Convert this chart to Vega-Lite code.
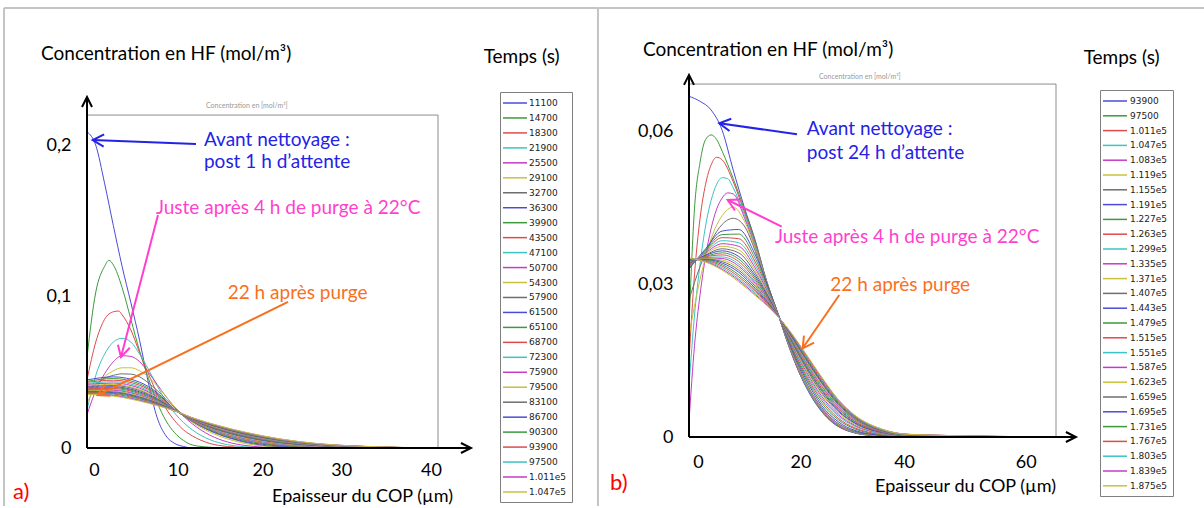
{
"$schema":"https://vega.github.io/schema/vega-lite/v6.json",
"autosize":{"type":"pad"},
"padding":{"left":2,"top":7,"right":0,"bottom":0},
"background":"white",
"bounds":"flush",
"spacing":251,
"config":{"view":{"stroke":null},"font":"Lato"},
"resolve":{"scale":{"x":"independent","y":"independent","color":"independent"},"legend":{"color":"independent"}},
"datasets":{
"a":[
{"t":"11100","x":0,"y":0.209},{"t":"11100","x":1,"y":0.2},{"t":"11100","x":2,"y":0.175},{"t":"11100","x":3,"y":0.147},{"t":"11100","x":4,"y":0.12},{"t":"11100","x":5,"y":0.096},{"t":"11100","x":6,"y":0.071},{"t":"11100","x":7,"y":0.043},{"t":"11100","x":8,"y":0.02},{"t":"11100","x":9,"y":0.008},{"t":"11100","x":10,"y":0.003},{"t":"11100","x":11,"y":0.001},{"t":"11100","x":12,"y":0},{"t":"11100","x":40,"y":0},
{"t":"14700","x":0,"y":0.06},{"t":"14700","x":1,"y":0.103},{"t":"14700","x":2,"y":0.12},{"t":"14700","x":2.5,"y":0.124},{"t":"14700","x":3,"y":0.121},{"t":"14700","x":4,"y":0.106},{"t":"14700","x":5,"y":0.085},{"t":"14700","x":6,"y":0.064},{"t":"14700","x":7,"y":0.046},{"t":"14700","x":8,"y":0.03},{"t":"14700","x":9,"y":0.018},{"t":"14700","x":10,"y":0.01},{"t":"14700","x":11,"y":0.005},{"t":"14700","x":12,"y":0.002},{"t":"14700","x":14,"y":0.0005},{"t":"14700","x":16,"y":0},{"t":"14700","x":40,"y":0},
{"t":"18300","x":0,"y":0.045},{"t":"18300","x":1,"y":0.07},{"t":"18300","x":2,"y":0.085},{"t":"18300","x":3,"y":0.09},{"t":"18300","x":3.6,"y":0.0905},{"t":"18300","x":4,"y":0.088},{"t":"18300","x":5,"y":0.078},{"t":"18300","x":6,"y":0.063},{"t":"18300","x":7,"y":0.049},{"t":"18300","x":8,"y":0.036},{"t":"18300","x":9,"y":0.026},{"t":"18300","x":10,"y":0.018},{"t":"18300","x":11,"y":0.012},{"t":"18300","x":12,"y":0.008},{"t":"18300","x":14,"y":0.003},{"t":"18300","x":16,"y":0.001},{"t":"18300","x":18,"y":0.0003},{"t":"18300","x":20,"y":0},{"t":"18300","x":40,"y":0},
{"t":"21900","x":0,"y":0.025},{"t":"21900","x":1,"y":0.048},{"t":"21900","x":2,"y":0.062},{"t":"21900","x":3,"y":0.07},{"t":"21900","x":4,"y":0.0725},{"t":"21900","x":5,"y":0.07},{"t":"21900","x":6,"y":0.062},{"t":"21900","x":7,"y":0.052},{"t":"21900","x":8,"y":0.041},{"t":"21900","x":9,"y":0.031},{"t":"21900","x":10,"y":0.023},{"t":"21900","x":12,"y":0.012},{"t":"21900","x":14,"y":0.0055},{"t":"21900","x":16,"y":0.0022},{"t":"21900","x":18,"y":0.0008},{"t":"21900","x":20,"y":0.0002},{"t":"21900","x":22,"y":0},{"t":"21900","x":40,"y":0},
{"t":"25500","x":0,"y":0.022},{"t":"25500","x":1,"y":0.038},{"t":"25500","x":2,"y":0.049},{"t":"25500","x":3,"y":0.057},{"t":"25500","x":4,"y":0.061},{"t":"25500","x":5,"y":0.0605},{"t":"25500","x":6,"y":0.057},{"t":"25500","x":7,"y":0.05},{"t":"25500","x":8,"y":0.042},{"t":"25500","x":9,"y":0.034},{"t":"25500","x":10,"y":0.027},{"t":"25500","x":12,"y":0.016},{"t":"25500","x":14,"y":0.0085},{"t":"25500","x":16,"y":0.004},{"t":"25500","x":18,"y":0.0017},{"t":"25500","x":20,"y":0.0006},{"t":"25500","x":23,"y":0.0001},{"t":"25500","x":25,"y":0},{"t":"25500","x":40,"y":0},
{"t":"29100","x":0,"y":0.03},{"t":"29100","x":1,"y":0.04},{"t":"29100","x":2,"y":0.047},{"t":"29100","x":3,"y":0.051},{"t":"29100","x":4,"y":0.053},{"t":"29100","x":5,"y":0.053},{"t":"29100","x":6,"y":0.051},{"t":"29100","x":7,"y":0.047},{"t":"29100","x":8,"y":0.041},{"t":"29100","x":9,"y":0.034},{"t":"29100","x":10,"y":0.027},{"t":"29100","x":12,"y":0.017},{"t":"29100","x":14,"y":0.0105},{"t":"29100","x":16,"y":0.006},{"t":"29100","x":18,"y":0.003},{"t":"29100","x":20,"y":0.0013},{"t":"29100","x":22,"y":0.0005},{"t":"29100","x":25,"y":0.0001},{"t":"29100","x":28,"y":0},{"t":"29100","x":40,"y":0},
{"t":"32700","x":0,"y":0.038},{"t":"32700","x":1,"y":0.042},{"t":"32700","x":2,"y":0.046},{"t":"32700","x":3,"y":0.048},{"t":"32700","x":4,"y":0.049},{"t":"32700","x":5,"y":0.0488},{"t":"32700","x":6,"y":0.047},{"t":"32700","x":7,"y":0.043},{"t":"32700","x":8,"y":0.038},{"t":"32700","x":10,"y":0.0265},{"t":"32700","x":12,"y":0.018},{"t":"32700","x":14,"y":0.0115},{"t":"32700","x":16,"y":0.007},{"t":"32700","x":18,"y":0.0038},{"t":"32700","x":20,"y":0.0018},{"t":"32700","x":23,"y":0.0006},{"t":"32700","x":26,"y":0.0001},{"t":"32700","x":30,"y":0},{"t":"32700","x":40,"y":0},
{"t":"36300","x":0,"y":0.045},{"t":"36300","x":3,"y":0.047},{"t":"36300","x":6,"y":0.0435},{"t":"36300","x":8,"y":0.0365},{"t":"36300","x":10,"y":0.0255},{"t":"36300","x":12,"y":0.0175},{"t":"36300","x":15,"y":0.0092},{"t":"36300","x":18,"y":0.0043},{"t":"36300","x":22,"y":0.0013},{"t":"36300","x":26,"y":0.0003},{"t":"36300","x":32,"y":0},{"t":"36300","x":40,"y":0},
{"t":"39900","x":0,"y":0.0441},{"t":"39900","x":3,"y":0.0459},{"t":"39900","x":6,"y":0.0424},{"t":"39900","x":8,"y":0.0357},{"t":"39900","x":10,"y":0.0254},{"t":"39900","x":12,"y":0.0177},{"t":"39900","x":15,"y":0.0097},{"t":"39900","x":18,"y":0.0049},{"t":"39900","x":22,"y":0.0017},{"t":"39900","x":26,"y":0.0006},{"t":"39900","x":32,"y":0.0001},{"t":"39900","x":40,"y":0},
{"t":"43500","x":0,"y":0.0434},{"t":"43500","x":3,"y":0.0448},{"t":"43500","x":6,"y":0.0414},{"t":"43500","x":8,"y":0.0351},{"t":"43500","x":10,"y":0.0253},{"t":"43500","x":12,"y":0.0179},{"t":"43500","x":15,"y":0.0102},{"t":"43500","x":18,"y":0.0054},{"t":"43500","x":22,"y":0.0021},{"t":"43500","x":26,"y":0.0008},{"t":"43500","x":32,"y":0.0002},{"t":"43500","x":40,"y":0},
{"t":"47100","x":0,"y":0.0426},{"t":"47100","x":3,"y":0.0438},{"t":"47100","x":6,"y":0.0404},{"t":"47100","x":8,"y":0.0344},{"t":"47100","x":10,"y":0.0253},{"t":"47100","x":12,"y":0.0181},{"t":"47100","x":15,"y":0.0106},{"t":"47100","x":18,"y":0.0059},{"t":"47100","x":22,"y":0.0025},{"t":"47100","x":26,"y":0.001},{"t":"47100","x":32,"y":0.0003},{"t":"47100","x":40,"y":0},
{"t":"50700","x":0,"y":0.042},{"t":"50700","x":3,"y":0.0429},{"t":"50700","x":6,"y":0.0395},{"t":"50700","x":8,"y":0.0338},{"t":"50700","x":10,"y":0.0252},{"t":"50700","x":12,"y":0.0183},{"t":"50700","x":15,"y":0.011},{"t":"50700","x":18,"y":0.0063},{"t":"50700","x":22,"y":0.0028},{"t":"50700","x":26,"y":0.0012},{"t":"50700","x":32,"y":0.0003},{"t":"50700","x":40,"y":0},
{"t":"54300","x":0,"y":0.0413},{"t":"54300","x":3,"y":0.042},{"t":"54300","x":6,"y":0.0386},{"t":"54300","x":8,"y":0.0332},{"t":"54300","x":10,"y":0.0251},{"t":"54300","x":12,"y":0.0185},{"t":"54300","x":15,"y":0.0114},{"t":"54300","x":18,"y":0.0067},{"t":"54300","x":22,"y":0.0031},{"t":"54300","x":26,"y":0.0014},{"t":"54300","x":32,"y":0.0004},{"t":"54300","x":40,"y":0},
{"t":"57900","x":0,"y":0.0407},{"t":"57900","x":3,"y":0.0413},{"t":"57900","x":6,"y":0.0379},{"t":"57900","x":8,"y":0.0327},{"t":"57900","x":10,"y":0.0251},{"t":"57900","x":12,"y":0.0186},{"t":"57900","x":15,"y":0.0117},{"t":"57900","x":18,"y":0.0071},{"t":"57900","x":22,"y":0.0034},{"t":"57900","x":26,"y":0.0016},{"t":"57900","x":32,"y":0.0005},{"t":"57900","x":40,"y":0},
{"t":"61500","x":0,"y":0.0402},{"t":"61500","x":3,"y":0.0405},{"t":"61500","x":6,"y":0.0371},{"t":"61500","x":8,"y":0.0322},{"t":"61500","x":10,"y":0.025},{"t":"61500","x":12,"y":0.0188},{"t":"61500","x":15,"y":0.0121},{"t":"61500","x":18,"y":0.0075},{"t":"61500","x":22,"y":0.0037},{"t":"61500","x":26,"y":0.0017},{"t":"61500","x":32,"y":0.0005},{"t":"61500","x":40,"y":0},
{"t":"65100","x":0,"y":0.0397},{"t":"65100","x":3,"y":0.0399},{"t":"65100","x":6,"y":0.0365},{"t":"65100","x":8,"y":0.0317},{"t":"65100","x":10,"y":0.0249},{"t":"65100","x":12,"y":0.0189},{"t":"65100","x":15,"y":0.0123},{"t":"65100","x":18,"y":0.0078},{"t":"65100","x":22,"y":0.0039},{"t":"65100","x":26,"y":0.0019},{"t":"65100","x":32,"y":0.0006},{"t":"65100","x":40,"y":0},
{"t":"68700","x":0,"y":0.0392},{"t":"68700","x":3,"y":0.0393},{"t":"68700","x":6,"y":0.0359},{"t":"68700","x":8,"y":0.0313},{"t":"68700","x":10,"y":0.0249},{"t":"68700","x":12,"y":0.019},{"t":"68700","x":15,"y":0.0126},{"t":"68700","x":18,"y":0.0081},{"t":"68700","x":22,"y":0.0042},{"t":"68700","x":26,"y":0.002},{"t":"68700","x":32,"y":0.0006},{"t":"68700","x":40,"y":0},
{"t":"72300","x":0,"y":0.0387},{"t":"72300","x":3,"y":0.0386},{"t":"72300","x":6,"y":0.0353},{"t":"72300","x":8,"y":0.0309},{"t":"72300","x":10,"y":0.0248},{"t":"72300","x":12,"y":0.0192},{"t":"72300","x":15,"y":0.0129},{"t":"72300","x":18,"y":0.0084},{"t":"72300","x":22,"y":0.0044},{"t":"72300","x":26,"y":0.0021},{"t":"72300","x":32,"y":0.0007},{"t":"72300","x":40,"y":0},
{"t":"75900","x":0,"y":0.0384},{"t":"75900","x":3,"y":0.0381},{"t":"75900","x":6,"y":0.0348},{"t":"75900","x":8,"y":0.0306},{"t":"75900","x":10,"y":0.0248},{"t":"75900","x":12,"y":0.0193},{"t":"75900","x":15,"y":0.0131},{"t":"75900","x":18,"y":0.0086},{"t":"75900","x":22,"y":0.0046},{"t":"75900","x":26,"y":0.0023},{"t":"75900","x":32,"y":0.0007},{"t":"75900","x":40,"y":0},
{"t":"79500","x":0,"y":0.038},{"t":"79500","x":3,"y":0.0376},{"t":"79500","x":6,"y":0.0343},{"t":"79500","x":8,"y":0.0302},{"t":"79500","x":10,"y":0.0248},{"t":"79500","x":12,"y":0.0194},{"t":"79500","x":15,"y":0.0133},{"t":"79500","x":18,"y":0.0089},{"t":"79500","x":22,"y":0.0048},{"t":"79500","x":26,"y":0.0024},{"t":"79500","x":32,"y":0.0007},{"t":"79500","x":40,"y":0},
{"t":"83100","x":0,"y":0.0376},{"t":"83100","x":3,"y":0.0371},{"t":"83100","x":6,"y":0.0338},{"t":"83100","x":8,"y":0.0299},{"t":"83100","x":10,"y":0.0247},{"t":"83100","x":12,"y":0.0195},{"t":"83100","x":15,"y":0.0136},{"t":"83100","x":18,"y":0.0091},{"t":"83100","x":22,"y":0.005},{"t":"83100","x":26,"y":0.0025},{"t":"83100","x":32,"y":0.0008},{"t":"83100","x":40,"y":0},
{"t":"86700","x":0,"y":0.0372},{"t":"86700","x":3,"y":0.0366},{"t":"86700","x":6,"y":0.0333},{"t":"86700","x":8,"y":0.0295},{"t":"86700","x":10,"y":0.0247},{"t":"86700","x":12,"y":0.0196},{"t":"86700","x":15,"y":0.0138},{"t":"86700","x":18,"y":0.0094},{"t":"86700","x":22,"y":0.0052},{"t":"86700","x":26,"y":0.0026},{"t":"86700","x":32,"y":0.0008},{"t":"86700","x":40,"y":0},
{"t":"90300","x":0,"y":0.0368},{"t":"90300","x":3,"y":0.0361},{"t":"90300","x":6,"y":0.0328},{"t":"90300","x":8,"y":0.0292},{"t":"90300","x":10,"y":0.0246},{"t":"90300","x":12,"y":0.0197},{"t":"90300","x":15,"y":0.014},{"t":"90300","x":18,"y":0.0096},{"t":"90300","x":22,"y":0.0053},{"t":"90300","x":26,"y":0.0027},{"t":"90300","x":32,"y":0.0009},{"t":"90300","x":40,"y":0},
{"t":"93900","x":0,"y":0.0365},{"t":"93900","x":3,"y":0.0356},{"t":"93900","x":6,"y":0.0323},{"t":"93900","x":8,"y":0.0289},{"t":"93900","x":10,"y":0.0246},{"t":"93900","x":12,"y":0.0198},{"t":"93900","x":15,"y":0.0142},{"t":"93900","x":18,"y":0.0099},{"t":"93900","x":22,"y":0.0055},{"t":"93900","x":26,"y":0.0028},{"t":"93900","x":32,"y":0.0009},{"t":"93900","x":40,"y":0},
{"t":"97500","x":0,"y":0.0361},{"t":"97500","x":3,"y":0.0351},{"t":"97500","x":6,"y":0.0318},{"t":"97500","x":8,"y":0.0285},{"t":"97500","x":10,"y":0.0246},{"t":"97500","x":12,"y":0.0199},{"t":"97500","x":15,"y":0.0145},{"t":"97500","x":18,"y":0.0101},{"t":"97500","x":22,"y":0.0057},{"t":"97500","x":26,"y":0.0029},{"t":"97500","x":32,"y":0.0009},{"t":"97500","x":40,"y":0},
{"t":"1.011e5","x":0,"y":0.0358},{"t":"1.011e5","x":3,"y":0.0347},{"t":"1.011e5","x":6,"y":0.0314},{"t":"1.011e5","x":8,"y":0.0283},{"t":"1.011e5","x":10,"y":0.0245},{"t":"1.011e5","x":12,"y":0.0199},{"t":"1.011e5","x":15,"y":0.0146},{"t":"1.011e5","x":18,"y":0.0103},{"t":"1.011e5","x":22,"y":0.0059},{"t":"1.011e5","x":26,"y":0.003},{"t":"1.011e5","x":32,"y":0.001},{"t":"1.011e5","x":40,"y":0},
{"t":"1.047e5","x":0,"y":0.0355},{"t":"1.047e5","x":3,"y":0.0343},{"t":"1.047e5","x":6,"y":0.031},{"t":"1.047e5","x":8,"y":0.028},{"t":"1.047e5","x":10,"y":0.0245},{"t":"1.047e5","x":12,"y":0.02},{"t":"1.047e5","x":15,"y":0.0148},{"t":"1.047e5","x":18,"y":0.0105},{"t":"1.047e5","x":22,"y":0.006},{"t":"1.047e5","x":26,"y":0.0031},{"t":"1.047e5","x":32,"y":0.001},{"t":"1.047e5","x":40,"y":0.0001}
],
"b":[
{"t":"93900","x":0,"y":0.067},{"t":"93900","x":2,"y":0.066},{"t":"93900","x":4,"y":0.0643},{"t":"93900","x":6,"y":0.0603},{"t":"93900","x":8,"y":0.0525},{"t":"93900","x":10,"y":0.0452},{"t":"93900","x":12,"y":0.0386},{"t":"93900","x":14,"y":0.0308},{"t":"93900","x":16,"y":0.0245},{"t":"93900","x":18,"y":0.018},{"t":"93900","x":20,"y":0.0125},{"t":"93900","x":22,"y":0.0082},{"t":"93900","x":24,"y":0.005},{"t":"93900","x":26,"y":0.0028},{"t":"93900","x":28,"y":0.0015},{"t":"93900","x":30,"y":0.0008},{"t":"93900","x":33,"y":0.0003},{"t":"93900","x":36,"y":0.0001},{"t":"93900","x":40,"y":0},{"t":"93900","x":66.4,"y":0},
{"t":"97500","x":0,"y":0.022},{"t":"97500","x":1,"y":0.045},{"t":"97500","x":2,"y":0.054},{"t":"97500","x":3,"y":0.0585},{"t":"97500","x":4,"y":0.0594},{"t":"97500","x":5,"y":0.0585},{"t":"97500","x":6,"y":0.0562},{"t":"97500","x":8,"y":0.0508},{"t":"97500","x":10,"y":0.0448},{"t":"97500","x":12,"y":0.0384},{"t":"97500","x":14,"y":0.0308},{"t":"97500","x":16,"y":0.0245},{"t":"97500","x":18,"y":0.0181},{"t":"97500","x":20,"y":0.0126},{"t":"97500","x":22,"y":0.0083},{"t":"97500","x":24,"y":0.0051},{"t":"97500","x":26,"y":0.0029},{"t":"97500","x":28,"y":0.0016},{"t":"97500","x":30,"y":0.0008},{"t":"97500","x":33,"y":0.0003},{"t":"97500","x":36,"y":0.0001},{"t":"97500","x":40,"y":0},{"t":"97500","x":66.4,"y":0},
{"t":"1.011e5","x":0,"y":0.015},{"t":"1.011e5","x":1,"y":0.032},{"t":"1.011e5","x":2,"y":0.043},{"t":"1.011e5","x":3,"y":0.0497},{"t":"1.011e5","x":4,"y":0.0535},{"t":"1.011e5","x":5,"y":0.055},{"t":"1.011e5","x":6,"y":0.0545},{"t":"1.011e5","x":8,"y":0.0502},{"t":"1.011e5","x":10,"y":0.0443},{"t":"1.011e5","x":12,"y":0.038},{"t":"1.011e5","x":14,"y":0.0307},{"t":"1.011e5","x":16,"y":0.0245},{"t":"1.011e5","x":18,"y":0.0182},{"t":"1.011e5","x":20,"y":0.0127},{"t":"1.011e5","x":22,"y":0.0084},{"t":"1.011e5","x":24,"y":0.0052},{"t":"1.011e5","x":26,"y":0.003},{"t":"1.011e5","x":28,"y":0.0016},{"t":"1.011e5","x":30,"y":0.0009},{"t":"1.011e5","x":33,"y":0.0003},{"t":"1.011e5","x":36,"y":0.0001},{"t":"1.011e5","x":40,"y":0},{"t":"1.011e5","x":66.4,"y":0},
{"t":"1.047e5","x":0,"y":0.01},{"t":"1.047e5","x":1,"y":0.024},{"t":"1.047e5","x":2,"y":0.034},{"t":"1.047e5","x":3,"y":0.0415},{"t":"1.047e5","x":4,"y":0.0465},{"t":"1.047e5","x":5,"y":0.0497},{"t":"1.047e5","x":6,"y":0.051},{"t":"1.047e5","x":7,"y":0.0508},{"t":"1.047e5","x":8,"y":0.049},{"t":"1.047e5","x":10,"y":0.0438},{"t":"1.047e5","x":12,"y":0.0376},{"t":"1.047e5","x":14,"y":0.0306},{"t":"1.047e5","x":16,"y":0.0245},{"t":"1.047e5","x":18,"y":0.0183},{"t":"1.047e5","x":20,"y":0.0129},{"t":"1.047e5","x":22,"y":0.0085},{"t":"1.047e5","x":24,"y":0.0053},{"t":"1.047e5","x":26,"y":0.0031},{"t":"1.047e5","x":28,"y":0.0017},{"t":"1.047e5","x":30,"y":0.0009},{"t":"1.047e5","x":33,"y":0.0004},{"t":"1.047e5","x":36,"y":0.0001},{"t":"1.047e5","x":40,"y":0},{"t":"1.047e5","x":66.4,"y":0},
{"t":"1.083e5","x":0,"y":0.003},{"t":"1.083e5","x":1,"y":0.018},{"t":"1.083e5","x":2,"y":0.028},{"t":"1.083e5","x":3,"y":0.0355},{"t":"1.083e5","x":4,"y":0.041},{"t":"1.083e5","x":5,"y":0.0448},{"t":"1.083e5","x":6,"y":0.047},{"t":"1.083e5","x":7,"y":0.048},{"t":"1.083e5","x":8,"y":0.0478},{"t":"1.083e5","x":10,"y":0.0432},{"t":"1.083e5","x":12,"y":0.0372},{"t":"1.083e5","x":14,"y":0.0305},{"t":"1.083e5","x":16,"y":0.0245},{"t":"1.083e5","x":18,"y":0.0185},{"t":"1.083e5","x":20,"y":0.0131},{"t":"1.083e5","x":22,"y":0.0087},{"t":"1.083e5","x":24,"y":0.0055},{"t":"1.083e5","x":26,"y":0.0032},{"t":"1.083e5","x":28,"y":0.0018},{"t":"1.083e5","x":30,"y":0.001},{"t":"1.083e5","x":33,"y":0.0004},{"t":"1.083e5","x":36,"y":0.0001},{"t":"1.083e5","x":40,"y":0},{"t":"1.083e5","x":66.4,"y":0},
{"t":"1.119e5","x":0,"y":0.02},{"t":"1.119e5","x":2,"y":0.031},{"t":"1.119e5","x":4,"y":0.039},{"t":"1.119e5","x":6,"y":0.0435},{"t":"1.119e5","x":8,"y":0.0452},{"t":"1.119e5","x":10,"y":0.0425},{"t":"1.119e5","x":12,"y":0.037},{"t":"1.119e5","x":14,"y":0.0305},{"t":"1.119e5","x":16,"y":0.0245},{"t":"1.119e5","x":18,"y":0.0186},{"t":"1.119e5","x":20,"y":0.0133},{"t":"1.119e5","x":22,"y":0.0089},{"t":"1.119e5","x":24,"y":0.0057},{"t":"1.119e5","x":26,"y":0.0034},{"t":"1.119e5","x":28,"y":0.0019},{"t":"1.119e5","x":30,"y":0.0011},{"t":"1.119e5","x":33,"y":0.0004},{"t":"1.119e5","x":36,"y":0.0001},{"t":"1.119e5","x":40,"y":0},{"t":"1.119e5","x":66.4,"y":0},
{"t":"1.155e5","x":0,"y":0.027},{"t":"1.155e5","x":2,"y":0.0335},{"t":"1.155e5","x":4,"y":0.0385},{"t":"1.155e5","x":6,"y":0.0418},{"t":"1.155e5","x":8,"y":0.043},{"t":"1.155e5","x":10,"y":0.0415},{"t":"1.155e5","x":12,"y":0.0365},{"t":"1.155e5","x":14,"y":0.0304},{"t":"1.155e5","x":16,"y":0.0245},{"t":"1.155e5","x":18,"y":0.0187},{"t":"1.155e5","x":20,"y":0.0135},{"t":"1.155e5","x":22,"y":0.0091},{"t":"1.155e5","x":24,"y":0.0058},{"t":"1.155e5","x":26,"y":0.0035},{"t":"1.155e5","x":28,"y":0.002},{"t":"1.155e5","x":30,"y":0.0011},{"t":"1.155e5","x":33,"y":0.0005},{"t":"1.155e5","x":36,"y":0.0002},{"t":"1.155e5","x":40,"y":0},{"t":"1.155e5","x":66.4,"y":0},
{"t":"1.191e5","x":0,"y":0.033},{"t":"1.191e5","x":3,"y":0.037},{"t":"1.191e5","x":6,"y":0.0405},{"t":"1.191e5","x":9,"y":0.0408},{"t":"1.191e5","x":12,"y":0.0358},{"t":"1.191e5","x":15,"y":0.0275},{"t":"1.191e5","x":18,"y":0.0189},{"t":"1.191e5","x":21,"y":0.0117},{"t":"1.191e5","x":24,"y":0.0062},{"t":"1.191e5","x":27,"y":0.003},{"t":"1.191e5","x":30,"y":0.0013},{"t":"1.191e5","x":35,"y":0.0003},{"t":"1.191e5","x":40,"y":0},{"t":"1.191e5","x":66.4,"y":0},
{"t":"1.227e5","x":0,"y":0.0332},{"t":"1.227e5","x":3,"y":0.0368},{"t":"1.227e5","x":6,"y":0.0398},{"t":"1.227e5","x":9,"y":0.0399},{"t":"1.227e5","x":12,"y":0.0351},{"t":"1.227e5","x":15,"y":0.0273},{"t":"1.227e5","x":18,"y":0.0191},{"t":"1.227e5","x":21,"y":0.0121},{"t":"1.227e5","x":24,"y":0.0067},{"t":"1.227e5","x":27,"y":0.0034},{"t":"1.227e5","x":30,"y":0.0016},{"t":"1.227e5","x":35,"y":0.0004},{"t":"1.227e5","x":40,"y":0},{"t":"1.227e5","x":66.4,"y":0},
{"t":"1.263e5","x":0,"y":0.0334},{"t":"1.263e5","x":3,"y":0.0366},{"t":"1.263e5","x":6,"y":0.0392},{"t":"1.263e5","x":9,"y":0.039},{"t":"1.263e5","x":12,"y":0.0344},{"t":"1.263e5","x":15,"y":0.0271},{"t":"1.263e5","x":18,"y":0.0193},{"t":"1.263e5","x":21,"y":0.0125},{"t":"1.263e5","x":24,"y":0.0072},{"t":"1.263e5","x":27,"y":0.0037},{"t":"1.263e5","x":30,"y":0.0018},{"t":"1.263e5","x":35,"y":0.0005},{"t":"1.263e5","x":40,"y":0.0001},{"t":"1.263e5","x":66.4,"y":0},
{"t":"1.299e5","x":0,"y":0.0336},{"t":"1.299e5","x":3,"y":0.0364},{"t":"1.299e5","x":6,"y":0.0386},{"t":"1.299e5","x":9,"y":0.0382},{"t":"1.299e5","x":12,"y":0.0338},{"t":"1.299e5","x":15,"y":0.0269},{"t":"1.299e5","x":18,"y":0.0195},{"t":"1.299e5","x":21,"y":0.0129},{"t":"1.299e5","x":24,"y":0.0076},{"t":"1.299e5","x":27,"y":0.0041},{"t":"1.299e5","x":30,"y":0.0021},{"t":"1.299e5","x":35,"y":0.0006},{"t":"1.299e5","x":40,"y":0.0001},{"t":"1.299e5","x":66.4,"y":0},
{"t":"1.335e5","x":0,"y":0.0337},{"t":"1.335e5","x":3,"y":0.0362},{"t":"1.335e5","x":6,"y":0.038},{"t":"1.335e5","x":9,"y":0.0375},{"t":"1.335e5","x":12,"y":0.0332},{"t":"1.335e5","x":15,"y":0.0267},{"t":"1.335e5","x":18,"y":0.0196},{"t":"1.335e5","x":21,"y":0.0133},{"t":"1.335e5","x":24,"y":0.008},{"t":"1.335e5","x":27,"y":0.0044},{"t":"1.335e5","x":30,"y":0.0023},{"t":"1.335e5","x":35,"y":0.0007},{"t":"1.335e5","x":40,"y":0.0002},{"t":"1.335e5","x":66.4,"y":0},
{"t":"1.371e5","x":0,"y":0.0339},{"t":"1.371e5","x":3,"y":0.036},{"t":"1.371e5","x":6,"y":0.0375},{"t":"1.371e5","x":9,"y":0.0368},{"t":"1.371e5","x":12,"y":0.0327},{"t":"1.371e5","x":15,"y":0.0265},{"t":"1.371e5","x":18,"y":0.0198},{"t":"1.371e5","x":21,"y":0.0136},{"t":"1.371e5","x":24,"y":0.0084},{"t":"1.371e5","x":27,"y":0.0047},{"t":"1.371e5","x":30,"y":0.0025},{"t":"1.371e5","x":35,"y":0.0008},{"t":"1.371e5","x":40,"y":0.0002},{"t":"1.371e5","x":66.4,"y":0},
{"t":"1.407e5","x":0,"y":0.034},{"t":"1.407e5","x":3,"y":0.0358},{"t":"1.407e5","x":6,"y":0.037},{"t":"1.407e5","x":9,"y":0.0362},{"t":"1.407e5","x":12,"y":0.0322},{"t":"1.407e5","x":15,"y":0.0263},{"t":"1.407e5","x":18,"y":0.0199},{"t":"1.407e5","x":21,"y":0.0139},{"t":"1.407e5","x":24,"y":0.0087},{"t":"1.407e5","x":27,"y":0.005},{"t":"1.407e5","x":30,"y":0.0027},{"t":"1.407e5","x":35,"y":0.0008},{"t":"1.407e5","x":40,"y":0.0002},{"t":"1.407e5","x":66.4,"y":0},
{"t":"1.443e5","x":0,"y":0.0341},{"t":"1.443e5","x":3,"y":0.0357},{"t":"1.443e5","x":6,"y":0.0366},{"t":"1.443e5","x":9,"y":0.0355},{"t":"1.443e5","x":12,"y":0.0317},{"t":"1.443e5","x":15,"y":0.0262},{"t":"1.443e5","x":18,"y":0.0201},{"t":"1.443e5","x":21,"y":0.0142},{"t":"1.443e5","x":24,"y":0.0091},{"t":"1.443e5","x":27,"y":0.0052},{"t":"1.443e5","x":30,"y":0.0028},{"t":"1.443e5","x":35,"y":0.0009},{"t":"1.443e5","x":40,"y":0.0003},{"t":"1.443e5","x":66.4,"y":0},
{"t":"1.479e5","x":0,"y":0.0342},{"t":"1.479e5","x":3,"y":0.0355},{"t":"1.479e5","x":6,"y":0.0362},{"t":"1.479e5","x":9,"y":0.035},{"t":"1.479e5","x":12,"y":0.0313},{"t":"1.479e5","x":15,"y":0.026},{"t":"1.479e5","x":18,"y":0.0202},{"t":"1.479e5","x":21,"y":0.0144},{"t":"1.479e5","x":24,"y":0.0093},{"t":"1.479e5","x":27,"y":0.0055},{"t":"1.479e5","x":30,"y":0.003},{"t":"1.479e5","x":35,"y":0.001},{"t":"1.479e5","x":40,"y":0.0003},{"t":"1.479e5","x":66.4,"y":0},
{"t":"1.515e5","x":0,"y":0.0343},{"t":"1.515e5","x":3,"y":0.0354},{"t":"1.515e5","x":6,"y":0.0358},{"t":"1.515e5","x":9,"y":0.0345},{"t":"1.515e5","x":12,"y":0.0309},{"t":"1.515e5","x":15,"y":0.0259},{"t":"1.515e5","x":18,"y":0.0203},{"t":"1.515e5","x":21,"y":0.0147},{"t":"1.515e5","x":24,"y":0.0096},{"t":"1.515e5","x":27,"y":0.0057},{"t":"1.515e5","x":30,"y":0.0031},{"t":"1.515e5","x":35,"y":0.001},{"t":"1.515e5","x":40,"y":0.0003},{"t":"1.515e5","x":66.4,"y":0},
{"t":"1.551e5","x":0,"y":0.0345},{"t":"1.551e5","x":3,"y":0.0353},{"t":"1.551e5","x":6,"y":0.0354},{"t":"1.551e5","x":9,"y":0.034},{"t":"1.551e5","x":12,"y":0.0305},{"t":"1.551e5","x":15,"y":0.0258},{"t":"1.551e5","x":18,"y":0.0204},{"t":"1.551e5","x":21,"y":0.0149},{"t":"1.551e5","x":24,"y":0.0099},{"t":"1.551e5","x":27,"y":0.0059},{"t":"1.551e5","x":30,"y":0.0033},{"t":"1.551e5","x":35,"y":0.0011},{"t":"1.551e5","x":40,"y":0.0003},{"t":"1.551e5","x":66.4,"y":0},
{"t":"1.587e5","x":0,"y":0.0345},{"t":"1.587e5","x":3,"y":0.0352},{"t":"1.587e5","x":6,"y":0.0351},{"t":"1.587e5","x":9,"y":0.0336},{"t":"1.587e5","x":12,"y":0.0302},{"t":"1.587e5","x":15,"y":0.0257},{"t":"1.587e5","x":18,"y":0.0205},{"t":"1.587e5","x":21,"y":0.0151},{"t":"1.587e5","x":24,"y":0.0101},{"t":"1.587e5","x":27,"y":0.0061},{"t":"1.587e5","x":30,"y":0.0034},{"t":"1.587e5","x":35,"y":0.0011},{"t":"1.587e5","x":40,"y":0.0004},{"t":"1.587e5","x":66.4,"y":0},
{"t":"1.623e5","x":0,"y":0.0346},{"t":"1.623e5","x":3,"y":0.0351},{"t":"1.623e5","x":6,"y":0.0348},{"t":"1.623e5","x":9,"y":0.0332},{"t":"1.623e5","x":12,"y":0.0299},{"t":"1.623e5","x":15,"y":0.0256},{"t":"1.623e5","x":18,"y":0.0206},{"t":"1.623e5","x":21,"y":0.0153},{"t":"1.623e5","x":24,"y":0.0103},{"t":"1.623e5","x":27,"y":0.0063},{"t":"1.623e5","x":30,"y":0.0035},{"t":"1.623e5","x":35,"y":0.0012},{"t":"1.623e5","x":40,"y":0.0004},{"t":"1.623e5","x":66.4,"y":0},
{"t":"1.659e5","x":0,"y":0.0347},{"t":"1.659e5","x":3,"y":0.035},{"t":"1.659e5","x":6,"y":0.0345},{"t":"1.659e5","x":9,"y":0.0328},{"t":"1.659e5","x":12,"y":0.0296},{"t":"1.659e5","x":15,"y":0.0255},{"t":"1.659e5","x":18,"y":0.0207},{"t":"1.659e5","x":21,"y":0.0155},{"t":"1.659e5","x":24,"y":0.0106},{"t":"1.659e5","x":27,"y":0.0064},{"t":"1.659e5","x":30,"y":0.0036},{"t":"1.659e5","x":35,"y":0.0012},{"t":"1.659e5","x":40,"y":0.0004},{"t":"1.659e5","x":66.4,"y":0},
{"t":"1.695e5","x":0,"y":0.0348},{"t":"1.695e5","x":3,"y":0.0349},{"t":"1.695e5","x":6,"y":0.0342},{"t":"1.695e5","x":9,"y":0.0324},{"t":"1.695e5","x":12,"y":0.0292},{"t":"1.695e5","x":15,"y":0.0254},{"t":"1.695e5","x":18,"y":0.0208},{"t":"1.695e5","x":21,"y":0.0157},{"t":"1.695e5","x":24,"y":0.0108},{"t":"1.695e5","x":27,"y":0.0066},{"t":"1.695e5","x":30,"y":0.0038},{"t":"1.695e5","x":35,"y":0.0013},{"t":"1.695e5","x":40,"y":0.0004},{"t":"1.695e5","x":66.4,"y":0},
{"t":"1.731e5","x":0,"y":0.0349},{"t":"1.731e5","x":3,"y":0.0348},{"t":"1.731e5","x":6,"y":0.0339},{"t":"1.731e5","x":9,"y":0.0319},{"t":"1.731e5","x":12,"y":0.0289},{"t":"1.731e5","x":15,"y":0.0253},{"t":"1.731e5","x":18,"y":0.0209},{"t":"1.731e5","x":21,"y":0.0159},{"t":"1.731e5","x":24,"y":0.011},{"t":"1.731e5","x":27,"y":0.0068},{"t":"1.731e5","x":30,"y":0.0039},{"t":"1.731e5","x":35,"y":0.0013},{"t":"1.731e5","x":40,"y":0.0004},{"t":"1.731e5","x":66.4,"y":0},
{"t":"1.767e5","x":0,"y":0.035},{"t":"1.767e5","x":3,"y":0.0347},{"t":"1.767e5","x":6,"y":0.0336},{"t":"1.767e5","x":9,"y":0.0315},{"t":"1.767e5","x":12,"y":0.0286},{"t":"1.767e5","x":15,"y":0.0252},{"t":"1.767e5","x":18,"y":0.021},{"t":"1.767e5","x":21,"y":0.0161},{"t":"1.767e5","x":24,"y":0.0112},{"t":"1.767e5","x":27,"y":0.007},{"t":"1.767e5","x":30,"y":0.004},{"t":"1.767e5","x":35,"y":0.0014},{"t":"1.767e5","x":40,"y":0.0005},{"t":"1.767e5","x":66.4,"y":0},
{"t":"1.803e5","x":0,"y":0.0351},{"t":"1.803e5","x":3,"y":0.0346},{"t":"1.803e5","x":6,"y":0.0333},{"t":"1.803e5","x":9,"y":0.0311},{"t":"1.803e5","x":12,"y":0.0283},{"t":"1.803e5","x":15,"y":0.0251},{"t":"1.803e5","x":18,"y":0.0211},{"t":"1.803e5","x":21,"y":0.0163},{"t":"1.803e5","x":24,"y":0.0115},{"t":"1.803e5","x":27,"y":0.0071},{"t":"1.803e5","x":30,"y":0.0041},{"t":"1.803e5","x":35,"y":0.0014},{"t":"1.803e5","x":40,"y":0.0005},{"t":"1.803e5","x":66.4,"y":0},
{"t":"1.839e5","x":0,"y":0.0351},{"t":"1.839e5","x":3,"y":0.0345},{"t":"1.839e5","x":6,"y":0.033},{"t":"1.839e5","x":9,"y":0.0308},{"t":"1.839e5","x":12,"y":0.028},{"t":"1.839e5","x":15,"y":0.025},{"t":"1.839e5","x":18,"y":0.0211},{"t":"1.839e5","x":21,"y":0.0165},{"t":"1.839e5","x":24,"y":0.0116},{"t":"1.839e5","x":27,"y":0.0073},{"t":"1.839e5","x":30,"y":0.0042},{"t":"1.839e5","x":35,"y":0.0015},{"t":"1.839e5","x":40,"y":0.0005},{"t":"1.839e5","x":66.4,"y":0},
{"t":"1.875e5","x":0,"y":0.0352},{"t":"1.875e5","x":3,"y":0.0344},{"t":"1.875e5","x":6,"y":0.0328},{"t":"1.875e5","x":9,"y":0.0305},{"t":"1.875e5","x":12,"y":0.0278},{"t":"1.875e5","x":15,"y":0.0249},{"t":"1.875e5","x":18,"y":0.0212},{"t":"1.875e5","x":21,"y":0.0166},{"t":"1.875e5","x":24,"y":0.0118},{"t":"1.875e5","x":27,"y":0.0074},{"t":"1.875e5","x":30,"y":0.0043},{"t":"1.875e5","x":35,"y":0.0015},{"t":"1.875e5","x":40,"y":0.0005},{"t":"1.875e5","x":66.4,"y":0}
]},
"hconcat":[
{"width":351,"height":367,"data":{"values":[{}]},
"layer":[
{"data":{"name":"a"},"mark":{"type":"line","interpolate":"monotone","strokeWidth":1},
"encoding":{
"x":{"field":"x","type":"quantitative","scale":{"domain":[0,40],"nice":false,"zero":false},"axis":{"values":[0,10,20,30,40],"title":"Epaisseur du COP (µm)","titleX":275,"titleY":48,"titleAlign":"center","titleBaseline":"middle","titleFont":"Lato","titleFontSize":18,"titleFontWeight":"normal","titleColor":"#000","labelFont":"Lato","labelFontSize":18,"labelColor":"#000","labelBaseline":"middle","labelPadding":22,"labelOffset":{"condition":[{"test":"datum.value == 0","value":7},{"test":"datum.value == 10","value":3},{"test":"datum.value == 30","value":-9},{"test":"datum.value == 40","value":-7}],"value":0},"ticks":false,"tickSize":0,"domain":false,"grid":false,"labelFlush":false,"labelOverlap":false}},
"y":{"field":"y","type":"quantitative","scale":{"domain":[0,0.2425],"nice":false,"zero":false},"axis":{"values":[0,0.1,0.2],"labelExpr":"datum.value == 0 ? '0' : replace(format(datum.value, '.1f'), '.', ',')","title":null,"labelFont":"Lato","labelFontSize":18,"labelColor":"#000","labelPadding":16,"ticks":false,"tickSize":0,"domain":false,"grid":false,"labelOverlap":false}},
"color":{"field":"t","type":"nominal","scale":{"domain":["11100","14700","18300","21900","25500","29100","32700","36300","39900","43500","47100","50700","54300","57900","61500","65100","68700","72300","75900","79500","83100","86700","90300","93900","97500","1.011e5","1.047e5"],"range":["#4b4bd8","#3c9a3c","#dd4b4b","#3cc3c3","#c43cc4","#c9c13c","#6e6e6e","#4b4bd8","#3c9a3c","#dd4b4b","#3cc3c3","#c43cc4","#c9c13c","#6e6e6e","#4b4bd8","#3c9a3c","#dd4b4b","#3cc3c3","#c43cc4","#c9c13c","#6e6e6e","#4b4bd8","#3c9a3c","#dd4b4b","#3cc3c3","#c43cc4","#c9c13c"]},
"legend":{"orient":"none","legendX":413,"legendY":11,"title":null,"strokeColor":"#808080","fillColor":"white","padding":5,"symbolType":"M-2.4,0L2.4,0","symbolSize":100,"symbolOffset":4,"symbolStrokeWidth":1.5,"labelFont":"DejaVu Sans","labelFontSize":9,"labelColor":"#222","labelOffset":8,"rowPadding":3.96,"symbolLimit":60,"labelLimit":100}}}},
{"mark":{"type":"rule","color":"#8c8c8c","strokeWidth":1},"encoding":{"x":{"datum":0},"x2":{"datum":40},"y":{"datum":0.22}}},
{"mark":{"type":"rule","color":"#8c8c8c","strokeWidth":1},"encoding":{"x":{"datum":40},"y":{"datum":0},"y2":{"datum":0.22}}},
{"mark":{"type":"rule","color":"#000","strokeWidth":2},"encoding":{"x":{"datum":0},"x2":{"datum":43.76},"y":{"datum":0}}},
{"mark":{"type":"rule","color":"#000","strokeWidth":2},"encoding":{"x":{"datum":0},"y":{"datum":0},"y2":{"datum":0.2319}}},
{"mark":{"type":"point","shape":"M-1,-0.5L0,0L-1,0.5","size":400,"angle":0,"filled":false,"color":"#000","strokeWidth":2,"opacity":1},"encoding":{"x":{"datum":43.76},"y":{"datum":0}}},
{"mark":{"type":"point","shape":"M-1,-0.5L0,0L-1,0.5","size":400,"angle":270,"filled":false,"color":"#000","strokeWidth":2,"opacity":1},"encoding":{"x":{"datum":0},"y":{"datum":0.2319}}},
{"mark":{"type":"rule","color":"#c4c4c4","strokeWidth":2},"encoding":{"x":{"datum":-9.459},"y":{"datum":-0.0383},"y2":{"datum":0.2907}}},
{"mark":{"type":"rule","color":"#c4c4c4","strokeWidth":2},"encoding":{"x":{"datum":-9.459},"x2":{"datum":58.23},"y":{"datum":0.2907}}},
{"mark":{"type":"rule","color":"#c4c4c4","strokeWidth":2},"encoding":{"x":{"datum":58.23},"y":{"datum":-0.0383},"y2":{"datum":0.2907}}},
{"mark":{"type":"text","text":"Concentration en HF (mol/m³)","align":"left","baseline":"middle","font":"Lato","fontSize":19,"color":"#000"},"encoding":{"x":{"datum":-5.242},"y":{"datum":0.2603}}},
{"mark":{"type":"text","text":"Temps (s)","align":"left","baseline":"middle","font":"Lato","fontSize":19,"color":"#000"},"encoding":{"x":{"datum":45.2},"y":{"datum":0.2583}}},
{"mark":{"type":"text","text":"a)","align":"left","baseline":"middle","font":"Lato","fontSize":22,"color":"#ff0000"},"encoding":{"x":{"datum":-8.433},"y":{"datum":-0.0291}}},
{"mark":{"type":"text","text":"Concentration en  [mol/m³]","align":"left","baseline":"middle","font":"Lato","fontSize":7,"color":"#999"},"encoding":{"x":{"datum":13.56},"y":{"datum":0.2259}}},
{"mark":{"type":"text","text":"Avant nettoyage :","align":"left","baseline":"middle","font":"Lato","fontSize":19,"color":"#2323e6"},"encoding":{"x":{"datum":13.33},"y":{"datum":0.2035}}},
{"mark":{"type":"text","text":"post 1 h d’attente","align":"left","baseline":"middle","font":"Lato","fontSize":19,"color":"#2323e6"},"encoding":{"x":{"datum":13.33},"y":{"datum":0.189}}},
{"mark":{"type":"rule","color":"#2323e6","strokeWidth":2},"encoding":{"x":{"datum":12.42},"y":{"datum":0.2008},"x2":{"datum":0.65},"y2":{"datum":0.2035}}},
{"mark":{"type":"point","shape":"M-1,-0.55L0,0L-1,0.55","size":500,"angle":182.2,"filled":false,"color":"#2323e6","strokeWidth":2,"opacity":1},"encoding":{"x":{"datum":0.65},"y":{"datum":0.2035}}},
{"mark":{"type":"text","text":"Juste après 4 h de purge à 22°C","align":"left","baseline":"middle","font":"Lato","fontSize":19,"color":"#ff3fcf"},"encoding":{"x":{"datum":7.86},"y":{"datum":0.1584}}},
{"mark":{"type":"rule","color":"#ff3fcf","strokeWidth":2},"encoding":{"x":{"datum":8.09},"y":{"datum":0.1539},"x2":{"datum":3.875},"y2":{"datum":0.0601}}},
{"mark":{"type":"point","shape":"M-1,-0.55L0,0L-1,0.55","size":500,"angle":104.7,"filled":false,"color":"#ff3fcf","strokeWidth":2,"opacity":1},"encoding":{"x":{"datum":3.875},"y":{"datum":0.0601}}},
{"mark":{"type":"text","text":"22 h après purge","align":"left","baseline":"middle","font":"Lato","fontSize":19,"color":"#f8701e"},"encoding":{"x":{"datum":16.03},"y":{"datum":0.1022}}},
{"mark":{"type":"rule","color":"#f8701e","strokeWidth":2},"encoding":{"x":{"datum":22.91},"y":{"datum":0.0965},"x2":{"datum":1.22},"y2":{"datum":0.035}}},
{"mark":{"type":"point","shape":"M-1,-0.55L0,0L-1,0.55","size":500,"angle":153.9,"filled":false,"color":"#f8701e","strokeWidth":2,"opacity":1},"encoding":{"x":{"datum":1.22},"y":{"datum":0.035}}}
]},
{"width":367,"height":356,"data":{"values":[{}]},
"layer":[
{"data":{"name":"b"},"mark":{"type":"line","interpolate":"monotone","strokeWidth":1},
"encoding":{
"x":{"field":"x","type":"quantitative","scale":{"domain":[0,66.4],"nice":false,"zero":false},"axis":{"values":[0,20,40,60],"title":"Epaisseur du COP (µm)","titleX":276,"titleY":49,"titleAlign":"center","titleBaseline":"middle","titleFont":"Lato","titleFontSize":18,"titleFontWeight":"normal","titleColor":"#000","labelFont":"Lato","labelFontSize":18,"labelColor":"#000","labelBaseline":"middle","labelPadding":25,"labelOffset":{"condition":[{"test":"datum.value == 0","value":9},{"test":"datum.value == 40","value":-6},{"test":"datum.value == 60","value":5}],"value":1},"ticks":false,"tickSize":0,"domain":false,"grid":false,"labelFlush":false,"labelOverlap":false}},
"y":{"field":"y","type":"quantitative","scale":{"domain":[0,0.07],"nice":false,"zero":false},"axis":{"values":[0,0.03,0.06],"labelExpr":"datum.value == 0 ? '0' : replace(format(datum.value, '.2f'), '.', ',')","title":null,"labelFont":"Lato","labelFontSize":18,"labelColor":"#000","labelPadding":16,"ticks":false,"tickSize":0,"domain":false,"grid":false,"labelOverlap":false}},
"color":{"field":"t","type":"nominal","scale":{"domain":["93900","97500","1.011e5","1.047e5","1.083e5","1.119e5","1.155e5","1.191e5","1.227e5","1.263e5","1.299e5","1.335e5","1.371e5","1.407e5","1.443e5","1.479e5","1.515e5","1.551e5","1.587e5","1.623e5","1.659e5","1.695e5","1.731e5","1.767e5","1.803e5","1.839e5","1.875e5"],"range":["#4b4bd8","#3c9a3c","#dd4b4b","#3cc3c3","#c43cc4","#c9c13c","#6e6e6e","#4b4bd8","#3c9a3c","#dd4b4b","#3cc3c3","#c43cc4","#c9c13c","#6e6e6e","#4b4bd8","#3c9a3c","#dd4b4b","#3cc3c3","#c43cc4","#c9c13c","#6e6e6e","#4b4bd8","#3c9a3c","#dd4b4b","#3cc3c3","#c43cc4","#c9c13c"]},
"legend":{"orient":"none","legendX":411,"legendY":9,"title":null,"strokeColor":"#808080","fillColor":"white","padding":5,"symbolType":"M-2.4,0L2.4,0","symbolSize":100,"symbolOffset":4,"symbolStrokeWidth":1.5,"labelFont":"DejaVu Sans","labelFontSize":9,"labelColor":"#222","labelOffset":9,"rowPadding":3.8,"symbolLimit":60,"labelLimit":100}}}},
{"mark":{"type":"rule","color":"#8c8c8c","strokeWidth":1},"encoding":{"x":{"datum":0},"x2":{"datum":66.4},"y":{"datum":0.0694}}},
{"mark":{"type":"rule","color":"#8c8c8c","strokeWidth":1},"encoding":{"x":{"datum":66.4},"y":{"datum":0},"y2":{"datum":0.0694}}},
{"mark":{"type":"rule","color":"#000","strokeWidth":2},"encoding":{"x":{"datum":0},"x2":{"datum":70.0},"y":{"datum":0}}},
{"mark":{"type":"rule","color":"#000","strokeWidth":2},"encoding":{"x":{"datum":0},"y":{"datum":0},"y2":{"datum":0.0712}}},
{"mark":{"type":"point","shape":"M-1,-0.5L0,0L-1,0.5","size":400,"angle":0,"filled":false,"color":"#000","strokeWidth":2,"opacity":1},"encoding":{"x":{"datum":70.0},"y":{"datum":0}}},
{"mark":{"type":"point","shape":"M-1,-0.5L0,0L-1,0.5","size":400,"angle":270,"filled":false,"color":"#000","strokeWidth":2,"opacity":1},"encoding":{"x":{"datum":0},"y":{"datum":0.0712}}},
{"mark":{"type":"rule","color":"#c4c4c4","strokeWidth":2},"encoding":{"x":{"datum":-16.42},"x2":{"datum":93.2},"y":{"datum":0.08435}}},
{"mark":{"type":"text","text":"Concentration en HF (mol/m³)","align":"left","baseline":"middle","font":"Lato","fontSize":19,"color":"#000"},"encoding":{"x":{"datum":-8.323},"y":{"datum":0.0761}}},
{"mark":{"type":"text","text":"Temps (s)","align":"left","baseline":"middle","font":"Lato","fontSize":19,"color":"#000"},"encoding":{"x":{"datum":71.4},"y":{"datum":0.07452}}},
{"mark":{"type":"text","text":"b)","align":"left","baseline":"middle","font":"Lato","fontSize":22,"color":"#ff0000"},"encoding":{"x":{"datum":-14.29},"y":{"datum":-0.00904}}},
{"mark":{"type":"text","text":"Concentration en  [mol/m³]","align":"left","baseline":"middle","font":"Lato","fontSize":7,"color":"#999"},"encoding":{"x":{"datum":23.52},"y":{"datum":0.0708}}},
{"mark":{"type":"text","text":"Avant nettoyage :","align":"left","baseline":"middle","font":"Lato","fontSize":19,"color":"#2323e6"},"encoding":{"x":{"datum":21.3},"y":{"datum":0.0605}}},
{"mark":{"type":"text","text":"post 24 h d’attente","align":"left","baseline":"middle","font":"Lato","fontSize":19,"color":"#2323e6"},"encoding":{"x":{"datum":21.3},"y":{"datum":0.0559}}},
{"mark":{"type":"rule","color":"#2323e6","strokeWidth":2},"encoding":{"x":{"datum":19.54},"y":{"datum":0.05952},"x2":{"datum":5.48},"y2":{"datum":0.06168}}},
{"mark":{"type":"point","shape":"M-1,-0.55L0,0L-1,0.55","size":500,"angle":188.1,"filled":false,"color":"#2323e6","strokeWidth":2,"opacity":1},"encoding":{"x":{"datum":5.48},"y":{"datum":0.06168}}},
{"mark":{"type":"text","text":"Juste après 4 h de purge à 22°C","align":"left","baseline":"middle","font":"Lato","fontSize":19,"color":"#ff3fcf"},"encoding":{"x":{"datum":15.56},"y":{"datum":0.03939}}},
{"mark":{"type":"rule","color":"#ff3fcf","strokeWidth":2},"encoding":{"x":{"datum":16.77},"y":{"datum":0.04135},"x2":{"datum":7.0},"y2":{"datum":0.0466}}},
{"mark":{"type":"point","shape":"M-1,-0.55L0,0L-1,0.55","size":500,"angle":206.3,"filled":false,"color":"#ff3fcf","strokeWidth":2,"opacity":1},"encoding":{"x":{"datum":7.0},"y":{"datum":0.0466}}},
{"mark":{"type":"text","text":"22 h après purge","align":"left","baseline":"middle","font":"Lato","fontSize":19,"color":"#f8701e"},"encoding":{"x":{"datum":25.57},"y":{"datum":0.02989}}},
{"mark":{"type":"rule","color":"#f8701e","strokeWidth":2},"encoding":{"x":{"datum":27.19},"y":{"datum":0.02792},"x2":{"datum":20.57},"y2":{"datum":0.01744}}},
{"mark":{"type":"point","shape":"M-1,-0.55L0,0L-1,0.55","size":500,"angle":124.5,"filled":false,"color":"#f8701e","strokeWidth":2,"opacity":1},"encoding":{"x":{"datum":20.57},"y":{"datum":0.01744}}}
]}
]
}
